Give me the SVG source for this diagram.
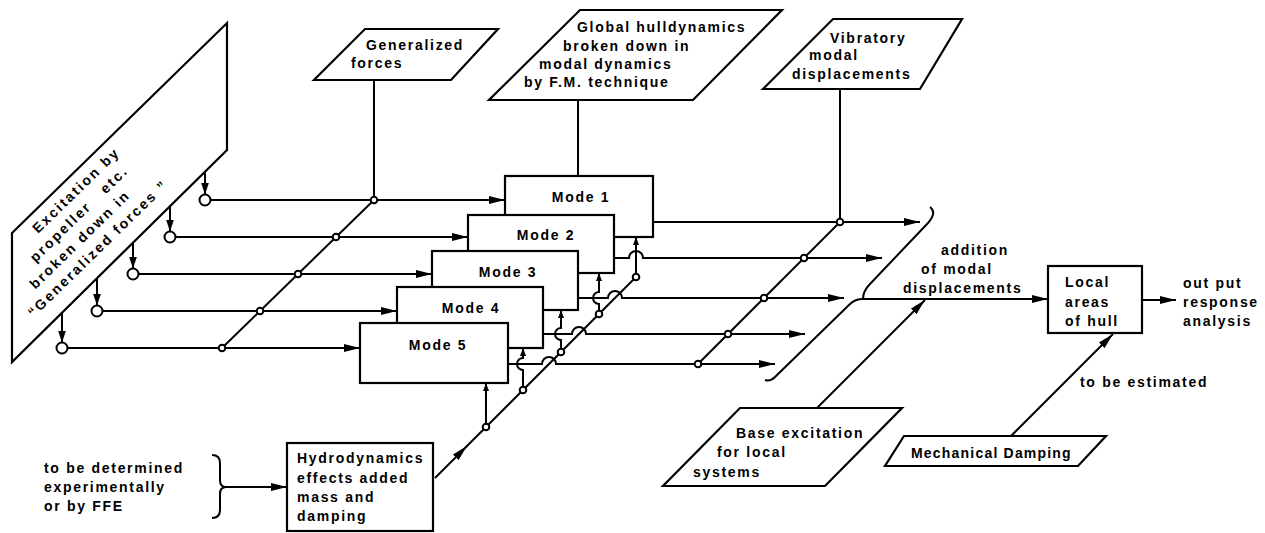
<svg xmlns="http://www.w3.org/2000/svg" width="1265" height="533" viewBox="0 0 1265 533">
<defs>
<marker id="ah" markerUnits="userSpaceOnUse" markerWidth="17" markerHeight="9" refX="16" refY="4.5" orient="auto"><path d="M0,0.5 L16,4.5 L0,8.5 z" fill="#000"/></marker>
<marker id="as" markerUnits="userSpaceOnUse" markerWidth="13" markerHeight="9" refX="12" refY="4.5" orient="auto"><path d="M0,0.5 L12,4.5 L0,8.5 z" fill="#000"/></marker>
<marker id="at" markerUnits="userSpaceOnUse" markerWidth="9" markerHeight="6" refX="8" refY="3" orient="auto"><path d="M0,0 L8,3 L0,6 z" fill="#000"/></marker>
</defs>
<style>
.s{fill:none;stroke:#000;stroke-width:2}
.b{fill:#fff;stroke:#000;stroke-width:2.2}
.c{fill:#fff;stroke:#000;stroke-width:2}
text{font-family:"Liberation Sans",Arial,sans-serif;font-weight:bold;font-size:14px;letter-spacing:1.7px;fill:#000}
.m{text-anchor:middle}
.r{letter-spacing:2.2px}
</style>
<rect width="1265" height="533" fill="#fff"/>

<g id="connectors">
  <!-- excitation drops -->
  <path class="s" d="M205,172 V194.5" marker-end="url(#as)"/>
  <path class="s" d="M170,206 V231.5" marker-end="url(#as)"/>
  <path class="s" d="M133,243 V268.5" marker-end="url(#as)"/>
  <path class="s" d="M97,278 V305.5" marker-end="url(#as)"/>
  <path class="s" d="M62,313 V342.5" marker-end="url(#as)"/>
  <!-- inputs to modes -->
  <path class="s" d="M210.5,200 H505" marker-end="url(#ah)"/>
  <path class="s" d="M175.5,237 H468" marker-end="url(#ah)"/>
  <path class="s" d="M138.5,274 H432" marker-end="url(#ah)"/>
  <path class="s" d="M102.5,311 H397" marker-end="url(#ah)"/>
  <path class="s" d="M67.5,348 H360" marker-end="url(#ah)"/>
  <!-- generalized forces -->
  <path class="s" d="M374,80 V200"/>
  <path class="s" d="M374,200 L222,348"/>
  <!-- global hull -->
  <path class="s" d="M578,100 V176"/>
  <!-- outputs -->
  <path class="s" d="M653,222 H920" marker-end="url(#ah)"/>
  <path class="s" d="M614,258 H629 A7,7 0 0 1 643,258 H882" marker-end="url(#ah)"/>
  <path class="s" d="M578,298 H608 A7,7 0 0 1 622,298 H844" marker-end="url(#ah)"/>
  <path class="s" d="M543,334 H572 A7,7 0 0 1 586,334 H805" marker-end="url(#ah)"/>
  <path class="s" d="M508,364 H542 A7,7 0 0 1 556,364 H775" marker-end="url(#ah)"/>
  <!-- vibratory modal displacements -->
  <path class="s" d="M840,89 V222"/>
  <path class="s" d="M698,364 L840,222"/>
  <!-- hydrodynamics -->
  <path class="s" d="M435,478 L467,446" marker-end="url(#ah)"/>
  <path class="s" d="M466,447 L636,277"/>
  <path class="s" d="M636,277 V237" marker-end="url(#at)"/>
  <path class="s" d="M599,314 V304 A6,6 0 0 1 599,292 V273" marker-end="url(#at)"/>
  <path class="s" d="M561,352 V340 A6,6 0 0 1 561,328 V310" marker-end="url(#at)"/>
  <path class="s" d="M523,390 V370 A6,6 0 0 1 523,358 V348" marker-end="url(#at)"/>
  <path class="s" d="M486,427 V383" marker-end="url(#at)"/>
  <path class="s" d="M226,487 H287" marker-end="url(#ah)"/>
  <!-- addition brace -->
  <path class="s" d="M863,299 C863,292 866,288 870,284 L928,223 C934,216 935,211 930,207"/>
  <path class="s" d="M863,299 C858,299 854,300 850,304 L775,377 C771,381 768,381 765,380"/>
  <path class="s" d="M863,299 H1048" marker-end="url(#ah)"/>
  <!-- base excitation, damping, output -->
  <path class="s" d="M817,408 L925,300" marker-end="url(#ah)"/>
  <path class="s" d="M1011,436 L1113,334" marker-end="url(#ah)"/>
  <path class="s" d="M1142,300 H1176" marker-end="url(#ah)"/>
  <!-- junction circles -->
  <circle class="c" cx="205" cy="200" r="5.5"/>
  <circle class="c" cx="170" cy="237" r="5.5"/>
  <circle class="c" cx="133" cy="274" r="5.5"/>
  <circle class="c" cx="97" cy="311" r="5.5"/>
  <circle class="c" cx="62" cy="348" r="5.5"/>
  <circle class="c" cx="374" cy="200" r="3.3"/>
  <circle class="c" cx="336" cy="237" r="3.3"/>
  <circle class="c" cx="298" cy="274" r="3.3"/>
  <circle class="c" cx="260" cy="311" r="3.3"/>
  <circle class="c" cx="222" cy="348" r="3.3"/>
  <circle class="c" cx="840" cy="222" r="3.3"/>
  <circle class="c" cx="804" cy="258" r="3.3"/>
  <circle class="c" cx="764" cy="298" r="3.3"/>
  <circle class="c" cx="728" cy="334" r="3.3"/>
  <circle class="c" cx="698" cy="364" r="3.3"/>
  <circle class="c" cx="636" cy="277" r="3.3"/>
  <circle class="c" cx="599" cy="314" r="3.3"/>
  <circle class="c" cx="561" cy="352" r="3.3"/>
  <circle class="c" cx="523" cy="390" r="3.3"/>
  <circle class="c" cx="486" cy="427" r="3.3"/>
</g>

<g id="excitation">
  <polygon class="b" points="12,233 227,23 227,150 12,362"/>
  <g transform="translate(38,234) rotate(-44.3)">
    <text class="r" x="0" y="0">Excitation by</text>
    <text class="r" x="-22" y="19" xml:space="preserve">propeller   etc.</text>
    <text class="r" x="-41" y="38">broken down in</text>
    <text class="r" x="-62" y="57">“Generalized forces ”</text>
  </g>
</g>
<g id="generalized-forces">
  <polygon class="b" points="365,29 498,29 451,80 314,80"/>
  <text x="366" y="50">Generalized</text>
  <text x="351" y="68">forces</text>
</g>
<g id="global-hull">
  <polygon class="b" points="580,10 782,10 693,100 489,100"/>
  <text x="577" y="32">Global hulldynamics</text>
  <text x="563" y="51">broken down in</text>
  <text x="539" y="69">modal dynamics</text>
  <text x="524" y="87">by F.M. technique</text>
</g>
<g id="vibratory">
  <polygon class="b" points="833,19 962,19 920,89 763,89"/>
  <text x="830" y="43">Vibratory</text>
  <text x="809" y="60">modal</text>
  <text x="792" y="79">displacements</text>
</g>
<g id="mode1"><rect class="b" x="505" y="176" width="148" height="61"/><text class="m" x="581" y="202">Mode 1</text></g>
<g id="mode2"><rect class="b" x="468" y="215" width="146" height="58"/><text class="m" x="546" y="240">Mode 2</text></g>
<g id="mode3"><rect class="b" x="432" y="251" width="146" height="59"/><text class="m" x="508" y="277">Mode 3</text></g>
<g id="mode4"><rect class="b" x="397" y="287" width="146" height="61"/><text class="m" x="471" y="313">Mode 4</text></g>
<g id="mode5"><rect class="b" x="360" y="323" width="148" height="60"/><text class="m" x="438" y="350">Mode 5</text></g>
<g id="hydro">
  <rect class="b" x="287" y="443" width="146" height="88"/>
  <text x="297" y="463">Hydrodynamics</text>
  <text x="297" y="483">effects added</text>
  <text x="297" y="502">mass and</text>
  <text x="297" y="521">damping</text>
</g>
<g id="ffe-note">
  <path class="s" d="M212,455 Q220,455 220,463 V480 Q220,487 226,487 Q220,487 220,494 V510 Q220,518 212,518"/>
  <text x="44" y="473">to be determined</text>
  <text x="44" y="492">experimentally</text>
  <text x="44" y="511">or by FFE</text>
</g>
<g id="addition">
  <text x="941" y="255">addition</text>
  <text x="921" y="274">of modal</text>
  <text x="903" y="293">displacements</text>
</g>
<g id="local-areas">
  <rect class="b" x="1048" y="266" width="94" height="67"/>
  <text x="1065" y="287">Local</text>
  <text x="1065" y="307">areas</text>
  <text x="1065" y="326">of hull</text>
</g>
<g id="output">
  <text x="1183" y="288">out put</text>
  <text x="1183" y="307">response</text>
  <text x="1183" y="326">analysis</text>
</g>
<g id="base-excitation">
  <polygon class="b" points="740,408 902,408 825,486 663,486"/>
  <text x="736" y="438">Base excitation</text>
  <text x="717" y="457">for local</text>
  <text x="693" y="477">systems</text>
</g>
<g id="mechanical-damping">
  <polygon class="b" points="904,436 1106,436 1078,466 885,466"/>
  <text x="911" y="458" style="letter-spacing:1.2px">Mechanical Damping</text>
</g>
<g id="estimated">
  <text x="1080" y="387">to be estimated</text>
</g>
</svg>
